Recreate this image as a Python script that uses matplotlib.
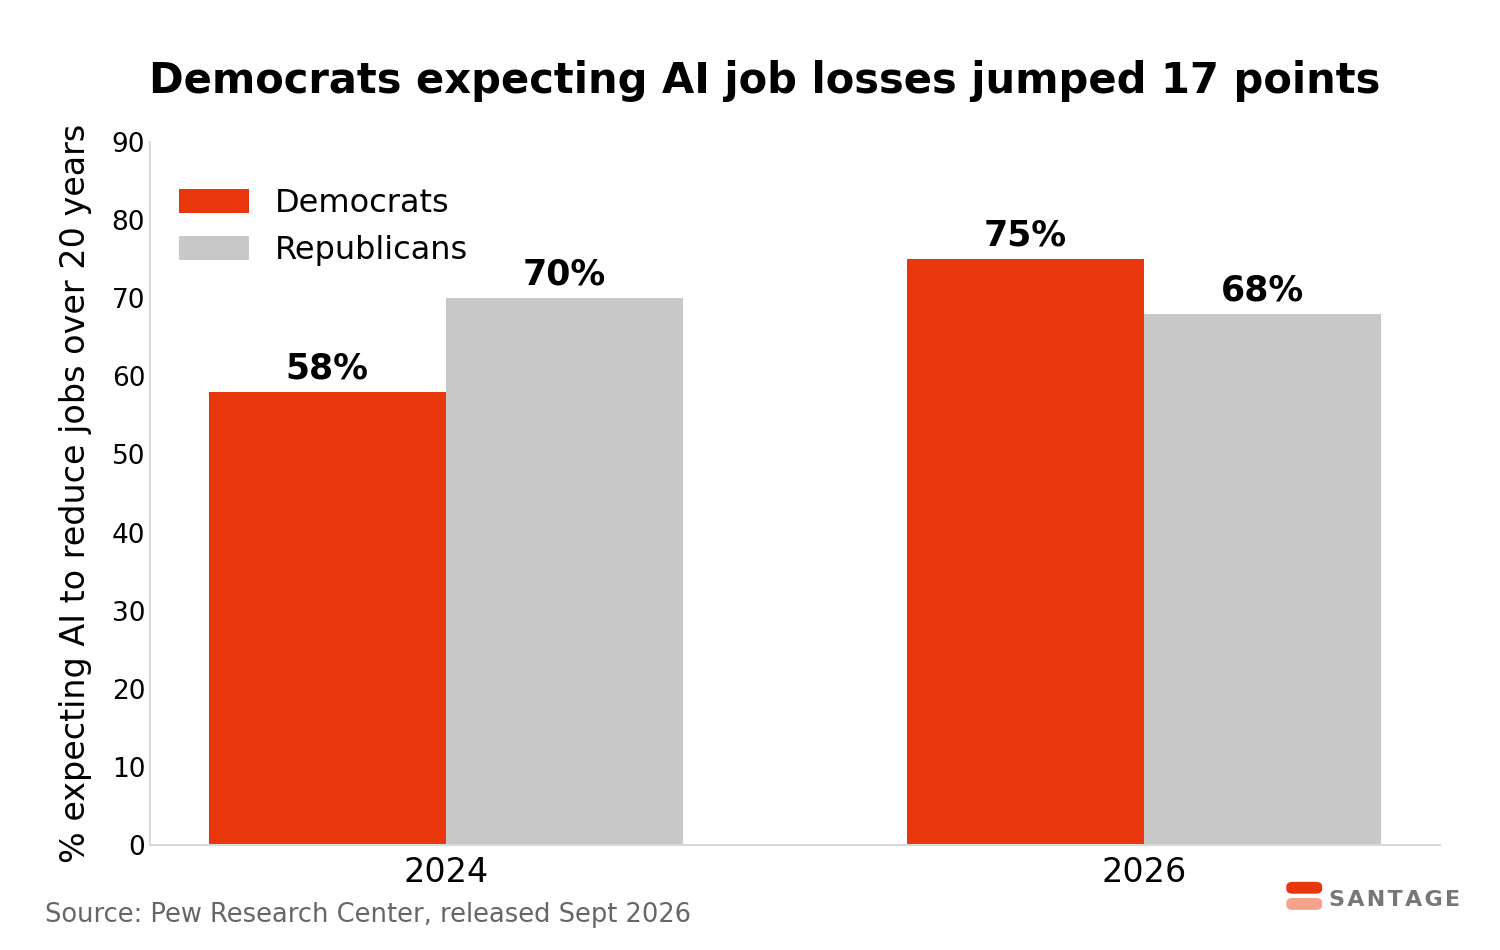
import numpy as np
import matplotlib
matplotlib.use('Agg')
import matplotlib.pyplot as plt
from matplotlib.patches import FancyBboxPatch

years = ['2024', '2026']
democrats = [58, 75]
republicans = [70, 68]
RED = '#e8360d'
GREY = '#c8c8c8'

fig = plt.figure(figsize=(15, 9.5), dpi=100)
ax = fig.add_axes([0.1, 0.1105, 0.86, 0.74])

x = np.arange(len(years))
w = 0.34
b1 = ax.bar(x - w / 2, democrats, w, color=RED, label='Democrats')
b2 = ax.bar(x + w / 2, republicans, w, color=GREY, label='Republicans')
for bars, vals in ((b1, democrats), (b2, republicans)):
    for rect, v in zip(bars, vals):
        ax.text(rect.get_x() + rect.get_width() / 2, v + 0.8, f'{v}%',
                ha='center', va='bottom', fontsize=25, fontweight='bold')

ax.set_xlim(-0.424, 1.424)
ax.set_ylim(0, 90)
ax.set_yticks(range(0, 91, 10))
ax.set_xticks(x)
ax.set_xticklabels(years, fontsize=24)
ax.tick_params(axis='y', labelsize=19, length=0)
ax.tick_params(axis='x', length=0, pad=8)
for s in ('top', 'right'):
    ax.spines[s].set_visible(False)
for s in ('left', 'bottom'):
    ax.spines[s].set_color('#d9d9d9')
    ax.spines[s].set_linewidth(1.5)
ax.set_ylabel('% expecting AI to reduce jobs over 20 years', fontsize=24, labelpad=14)

ax.legend(loc='upper left', fontsize=23, frameon=False, handlelength=2.2,
          handleheight=0.8, bbox_to_anchor=(0.0, 0.975))

fig.text(0.51, 0.915, 'Democrats expecting AI job losses jumped 17 points',
         ha='center', va='center', fontsize=30, fontweight='bold')
fig.text(0.03, 0.037, 'Source: Pew Research Center, released Sept 2026',
         ha='left', va='center', fontsize=18.5, color='#666666')

# logo
for yb, c in ((0.062, RED), (0.045, '#f4a28c')):
    fig.patches.append(FancyBboxPatch((0.860, yb), 0.019, 0.007,
                                      boxstyle='round,pad=0.002,rounding_size=0.004',
                                      transform=fig.transFigure, color=c))
fig.text(0.886, 0.053, 'S A N T A G E'.replace(' ', '\u200a'), ha='left', va='center',
         fontsize=16, fontweight='bold', color='#777777')

fig.savefig('out.png', dpi=100, facecolor='white')
